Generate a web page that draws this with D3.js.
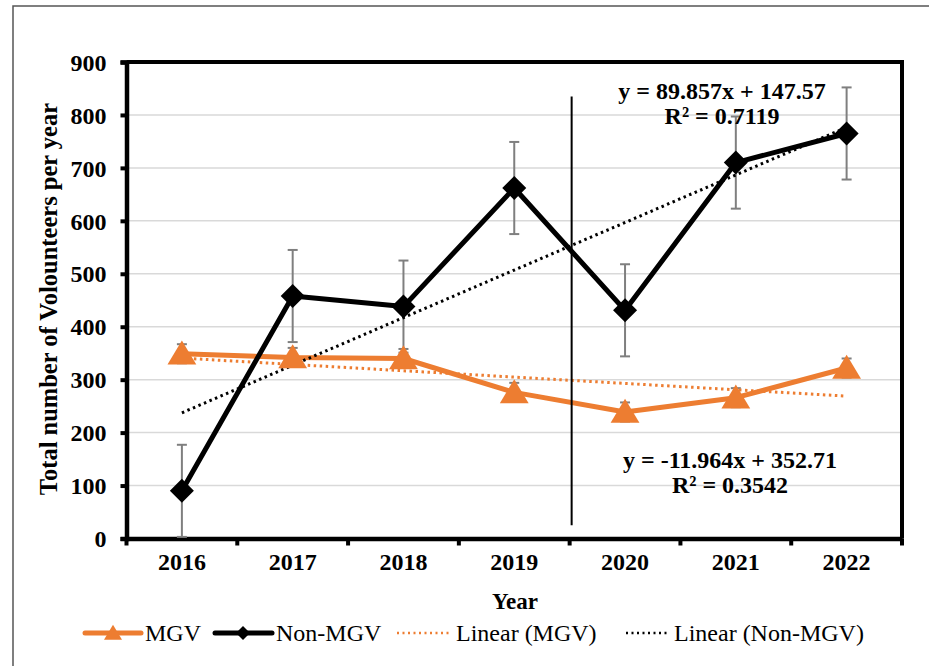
<!DOCTYPE html>
<html><head><meta charset="utf-8">
<script src="https://cdn.jsdelivr.net/npm/d3@7"></script>
<style>body{margin:0;background:#fff}svg{display:block}</style>
</head><body>
<svg id="c" width="929" height="666"></svg>
<script>
const years = ["2016","2017","2018","2019","2020","2021","2022"];
const mgv = [349, 342, 340, 276, 239, 266, 322];
const mgvErr = [18, 18, 18, 18, 18, 18, 18];
const nonMgv = [90, 458, 438, 662, 431, 710, 765];
const nonMgvErr = [87, 87, 87, 87, 87, 87, 87];
const yTicks = [0,100,200,300,400,500,600,700,800,900];
const trendMgv = {slope: -11.964, intercept: 352.71, r2: "0.3542"};
const trendNon = {slope: 89.857, intercept: 147.57, r2: "0.7119"};
const legendLabels = ["MGV","Non-MGV","Linear (MGV)","Linear (Non-MGV)"];

const ORANGE = "#ED7D31";
const SERIF = "'Liberation Serif','Times New Roman',serif";
const svg = d3.select("#c");
const L = 126.5, R = 902, T = 62, B = 538.5;

// outer border
svg.append("rect").attr("x",13).attr("y",6).attr("width",940).attr("height",700)
  .attr("fill","none").attr("stroke","#555").attr("stroke-width",1.5);

const x = d3.scaleBand().domain(years).range([L,R]);
const cx = d => x(d) + x.bandwidth()/2;
const y = d3.scaleLinear().domain([0,900]).range([B,T]);

// gridlines
svg.append("g").selectAll("line").data(yTicks.filter(t=>t>0 && t<900)).join("line")
  .attr("x1",L).attr("x2",R).attr("y1",d=>y(d)).attr("y2",d=>y(d))
  .attr("stroke","#d9d9d9").attr("stroke-width",1.5);

// frame top/right
svg.append("path").attr("d",`M${L},${T}H${R}V${B}`).attr("fill","none")
  .attr("stroke","#000").attr("stroke-width",4);

// y axis
const ya = d3.axisLeft(y).tickValues(yTicks).tickSize(6).tickPadding(14).tickFormat(d3.format("d"));
const gy = svg.append("g").attr("transform",`translate(${L},0)`).call(ya);
gy.select(".domain").attr("stroke","#000").attr("stroke-width",4.5);
gy.selectAll(".tick line").attr("stroke","#000").attr("stroke-width",4);
gy.selectAll(".tick text").attr("font-family",SERIF).attr("font-weight","bold")
  .attr("font-size",24).attr("fill","#000").attr("dy","0.34em");

// x axis
const xa = d3.axisBottom(x).tickSize(0).tickPadding(14);
const gx = svg.append("g").attr("transform",`translate(0,${B})`).call(xa);
gx.select(".domain").attr("stroke","#000").attr("stroke-width",4.5);
gx.selectAll(".tick text").attr("font-family",SERIF).attr("font-weight","bold")
  .attr("font-size",24).attr("fill","#000").attr("dy","0.71em");
// boundary ticks
const bounds = years.map(d=>x(d)).concat([R]);
svg.append("g").selectAll("line").data(bounds).join("line")
  .attr("x1",d=>d).attr("x2",d=>d).attr("y1",B).attr("y2",B+7)
  .attr("stroke","#000").attr("stroke-width",4);

// axis titles
svg.append("text").attr("x",515).attr("y",609).attr("text-anchor","middle")
  .attr("font-family",SERIF).attr("font-weight","bold").attr("font-size",23).text("Year");
svg.append("text").attr("transform","translate(57,299) rotate(-90)").attr("text-anchor","middle")
  .attr("font-family",SERIF).attr("font-weight","bold").attr("font-size",24.5)
  .text("Total number of Volounteers per year");

// error bars
function errBars(vals, errs){
  const g = svg.append("g").attr("stroke","#7f7f7f").attr("stroke-width",2);
  years.forEach((yr,i)=>{
    const xc = cx(yr), y1 = y(vals[i]+errs[i]), y0 = y(Math.max(0,vals[i]-errs[i]));
    g.append("line").attr("x1",xc).attr("x2",xc).attr("y1",y1).attr("y2",y0);
    g.append("line").attr("x1",xc-5).attr("x2",xc+5).attr("y1",y1).attr("y2",y1);
    g.append("line").attr("x1",xc-5).attr("x2",xc+5).attr("y1",y0).attr("y2",y0);
  });
}
errBars(nonMgv, nonMgvErr);
errBars(mgv, mgvErr);

// trend lines
function trend(t, color){
  const pts = years.map((yr,i)=>[cx(yr), y(t.slope*(i+1)+t.intercept)]);
  svg.append("line").attr("x1",pts[0][0]).attr("y1",pts[0][1])
    .attr("x2",pts[6][0]).attr("y2",pts[6][1])
    .attr("stroke",color).attr("stroke-width",3).attr("stroke-dasharray","2.5,3.5");
}
trend(trendMgv, ORANGE);

const line = d3.line().x((d,i)=>cx(years[i])).y(d=>y(d));
svg.append("path").datum(mgv).attr("d",line).attr("fill","none")
  .attr("stroke",ORANGE).attr("stroke-width",5).attr("stroke-linejoin","round");
svg.append("path").datum(nonMgv).attr("d",line).attr("fill","none")
  .attr("stroke","#000").attr("stroke-width",5).attr("stroke-linejoin","round");
trend(trendNon, "#000");

// markers
const tri = (s)=>`M0,${-s*0.55}L${s*0.6},${s*0.45}L${-s*0.6},${s*0.45}Z`;
const dia = (s)=>`M0,${-s}L${s},0L0,${s}L${-s},0Z`;
svg.append("g").selectAll("path").data(mgv).join("path")
  .attr("transform",(d,i)=>`translate(${cx(years[i])},${y(d)})`)
  .attr("d",tri(24)).attr("fill",ORANGE);
svg.append("g").selectAll("path").data(nonMgv).join("path")
  .attr("transform",(d,i)=>`translate(${cx(years[i])},${y(d)})`)
  .attr("d",dia(12)).attr("fill","#000");

// vertical separator between 2019 and 2020
const sepX = x("2020") + 2;
svg.append("line").attr("x1",sepX).attr("x2",sepX).attr("y1",y(835)).attr("y2",y(25))
  .attr("stroke","#000").attr("stroke-width",2);

// equations
function eq(t, xc, yb){
  const sign = t.intercept>=0 ? "+" : "-";
  const g = svg.append("g").attr("font-family",SERIF).attr("font-weight","bold")
    .attr("font-size",24).attr("text-anchor","middle").attr("fill","#000");
  g.append("text").attr("x",xc).attr("y",yb).text(`y = ${t.slope}x ${sign} ${Math.abs(t.intercept)}`);
  g.append("text").attr("x",xc).attr("y",yb+25).text(`R² = ${t.r2}`);
}
eq(trendNon, 722, 99);
eq(trendMgv, 730, 468);

// legend
const ly = 633;
const lg = svg.append("g");
lg.append("line").attr("x1",85).attr("x2",141).attr("y1",ly).attr("y2",ly)
  .attr("stroke",ORANGE).attr("stroke-width",5).attr("stroke-linecap","round");
lg.append("path").attr("transform",`translate(113,${ly})`).attr("d",tri(15)).attr("fill",ORANGE);
lg.append("line").attr("x1",215).attr("x2",272).attr("y1",ly).attr("y2",ly)
  .attr("stroke","#000").attr("stroke-width",5).attr("stroke-linecap","round");
lg.append("path").attr("transform",`translate(243,${ly})`).attr("d",dia(7)).attr("fill","#000");
lg.append("line").attr("x1",397).attr("x2",450).attr("y1",ly).attr("y2",ly)
  .attr("stroke",ORANGE).attr("stroke-width",2.5).attr("stroke-dasharray","2,3.5");
lg.append("line").attr("x1",626).attr("x2",668).attr("y1",ly).attr("y2",ly)
  .attr("stroke","#000").attr("stroke-width",2.5).attr("stroke-dasharray","2,3.5");
const lx = [145, 276, 456, 674];
lg.selectAll("text").data(legendLabels).join("text")
  .attr("x",(d,i)=>lx[i]).attr("y",641)
  .attr("font-family",SERIF).attr("font-size",24).attr("fill","#000").text(d=>d);
</script>
</body></html>
